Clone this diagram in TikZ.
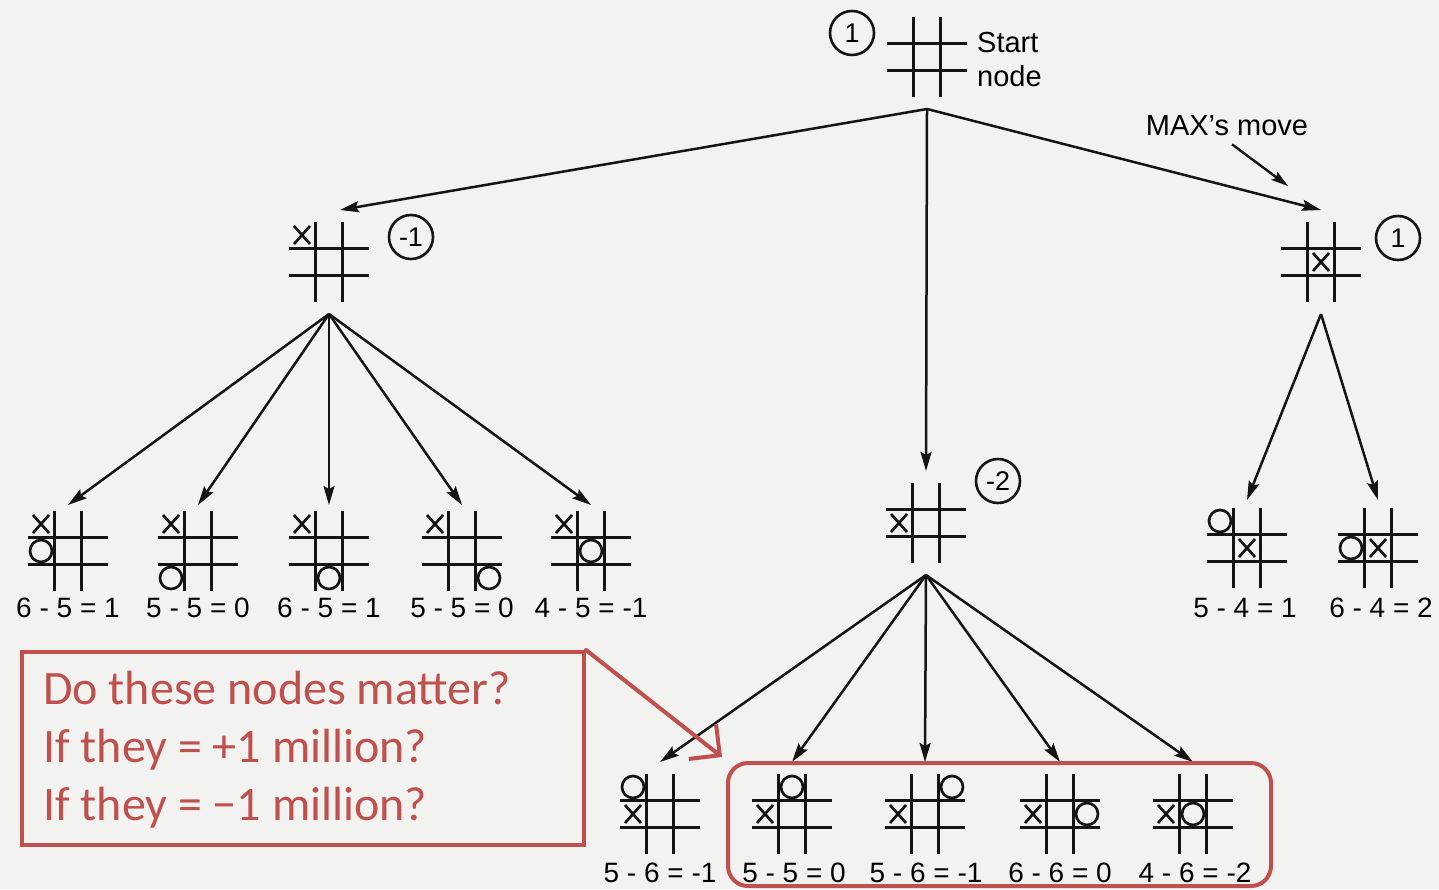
\documentclass[tikz,border=0pt]{standalone}
\usepackage{fontspec}
\setmainfont{Liberation Sans}
\newfontfamily\calfont{Carlito}
\usetikzlibrary{arrows.meta,calc}
\definecolor{pptred}{RGB}{192,80,77}
\definecolor{paper}{RGB}{242,242,240}
\definecolor{ink}{RGB}{20,20,20}
\tikzset{
  boardnode/.style={minimum width=80, minimum height=104, inner sep=0, outer sep=0},
  gridline/.style={line width=3.2pt, draw=ink},
  markline/.style={line width=2.7pt, draw=ink},
  arr/.style={line width=2.5pt, draw=ink, -{Stealth[length=19pt,width=11pt,inset=3pt]}},
  arrsmall/.style={line width=2.4pt, draw=ink, -{Stealth[length=17pt,width=10pt,inset=3pt]}},
  valcirc/.style={circle, draw=ink, line width=2.6pt, minimum size=44, inner sep=0, font=\fontsize{27}{30}\selectfont},
  score/.style={font=\fontsize{28}{30}\selectfont, inner sep=0},
  redline/.style={draw=pptred, line width=4pt},
}
\newcommand{\xm}[2]{\draw[markline,shift={(#1*27,#2*27)}] (-8,-9) -- (8,9) (-8,9) -- (8,-9);}
\newcommand{\om}[2]{\draw[markline] (#1*27,#2*27) circle[radius=11];}
\newcommand{\tttboard}[4]{%
  \node[boardnode] (#1) at (#2,#3) {};
  \begin{scope}[shift={(#2,#3)}]
    \draw[gridline] (-40,-13.5) -- (40,-13.5) (-40,13.5) -- (40,13.5)
                    (-13.5,-40) -- (-13.5,40) (13.5,-40) -- (13.5,40);
    #4
  \end{scope}}
\begin{document}
\begin{tikzpicture}[x=1pt,y=-1pt]
\useasboundingbox (0,0) rectangle (1439,889);
\fill[paper] (0,0) rectangle (1439,889);

% boards
\tttboard{root}{927}{57}{}
\tttboard{L}{329}{262}{\xm{-1}{-1}}
\tttboard{M}{926}{523}{\xm{-1}{0}}
\tttboard{R}{1321}{262}{\xm{0}{0}}
\tttboard{l1}{68}{551}{\xm{-1}{-1}\om{-1}{0}}
\tttboard{l2}{198}{551}{\xm{-1}{-1}\om{-1}{1}}
\tttboard{l3}{329}{551}{\xm{-1}{-1}\om{0}{1}}
\tttboard{l4}{462}{551}{\xm{-1}{-1}\om{1}{1}}
\tttboard{l5}{591}{551}{\xm{-1}{-1}\om{0}{0}}
\tttboard{r1}{1247}{548}{\xm{0}{0}\om{-1}{-1}}
\tttboard{r2}{1378}{548}{\xm{0}{0}\om{-1}{0}}
\tttboard{m1}{660}{814}{\xm{-1}{0}\om{-1}{-1}}
\tttboard{m2}{792}{814}{\xm{-1}{0}\om{0}{-1}}
\tttboard{m3}{925}{814}{\xm{-1}{0}\om{1}{-1}}
\tttboard{m4}{1060}{814}{\xm{-1}{0}\om{1}{0}}
\tttboard{m5}{1193}{814}{\xm{-1}{0}\om{0}{0}}

% values
\node[valcirc] (rootv) at (852,33) {1};
\node[valcirc] (Lv) at (411,237) {-1};
\node[valcirc] (Rv) at (1398,238) {1};
\node[valcirc] (Mv) at (998,481) {-2};

% texts
\node[anchor=west, align=left, inner sep=0, font=\fontsize{29}{34}\selectfont] (startlbl) at (977,60) {Start\\node};
\node[inner sep=0, font=\fontsize{29}{32}\selectfont] (maxlbl) at (1227,126) {MAX's move};
\coordinate (maxtip) at (1288,186);

% scores
\node[score] (l1s) at (68,608) {6 - 5 = 1};
\node[score] (l2s) at (198,608) {5 - 5 = 0};
\node[score] (l3s) at (329,608) {6 - 5 = 1};
\node[score] (l4s) at (462,608) {5 - 5 = 0};
\node[score] (l5s) at (591,608) {4 - 5 = -1};
\node[score] (r1s) at (1245,608) {5 - 4 = 1};
\node[score] (r2s) at (1381,608) {6 - 4 = 2};
\node[score] (m1s) at (660,873) {5 - 6 = -1};
\node[score] (m2s) at (794,873) {5 - 5 = 0};
\node[score] (m3s) at (926,873) {5 - 6 = -1};
\node[score] (m4s) at (1060,873) {6 - 6 = 0};
\node[score] (m5s) at (1195,873) {4 - 6 = -2};

% tree arrows
\draw[arr] (root.south) -- ($(L.north)+(11,0)$);
\draw[arr] (root.south) -- (M.north);
\draw[arr] (root.south) -- (R.north);
\foreach \c in {l1,l2,l3,l4,l5} \draw[arr] (L.south) -- ($(\c.north)+(0,6)$);
\foreach \c in {r1,r2} \draw[arr] (R.south) -- ($(\c.north)+(0,4)$);
\foreach \c in {m1,m2,m3,m4,m5} \draw[arr] (M.south) -- (\c.north);
\draw[arrsmall] ($(maxlbl.south)+(5,8)$) -- (maxtip);

% red annotation
\node[redline, rounded corners=20pt, minimum width=543, minimum height=123, inner sep=0] (redbox) at (999.5,824.5) {};
\node[redline, minimum width=562, minimum height=193, inner sep=0] (callout) at (303,748.5) {};
\node[anchor=north west, align=left, inner sep=0, text=pptred,
      font=\calfont\fontsize{48}{58}\selectfont] (calltext) at (43,671)
  {Do these nodes matter?\\If they = +1 million?\\If they = −1 million?};
\coordinate (redtip) at (722,757);
\draw[redline, line cap=round, -{Straight Barb[length=22pt,width=44pt,line width=4pt]}] (callout.north east) -- (redtip);
\end{tikzpicture}
\end{document}
